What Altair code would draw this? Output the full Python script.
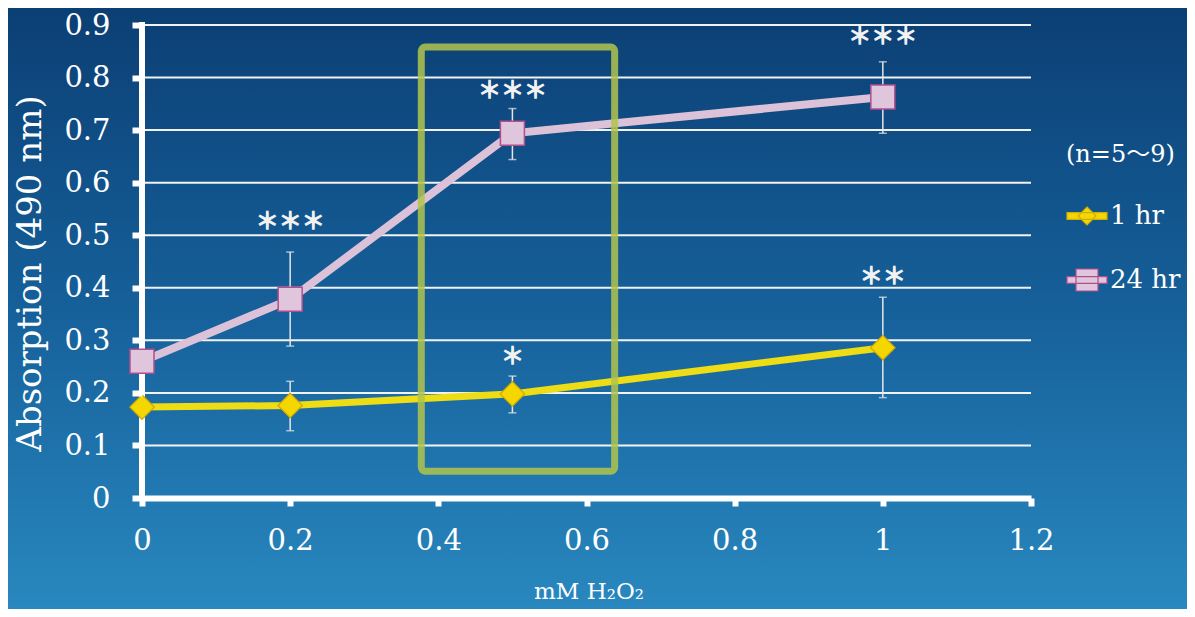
import altair as alt
import pandas as pd

# ---------------- data ----------------
series_names = ["1 hr", "24 hr"]
x_vals = [0, 0.2, 0.5, 1.0]
hr1_mean = [0.173, 0.176, 0.198, 0.286]
hr1_low = [0.165, 0.128, 0.162, 0.191]
hr1_high = [0.181, 0.222, 0.232, 0.382]
hr24_mean = [0.260, 0.378, 0.694, 0.763]
hr24_low = [0.250, 0.289, 0.644, 0.694]
hr24_high = [0.270, 0.468, 0.741, 0.830]

star_x = [0.2, 0.5, 1.0, 0.5, 1.0]
star_y = [0.525, 0.774, 0.877, 0.268, 0.420]
star_text = ["＊＊＊", "＊＊＊", "＊＊＊", "＊", "＊＊"]

box_x = [0.377, 0.638]
box_y = [0.051, 0.858]

x_ticks = [0, 0.2, 0.4, 0.6, 0.8, 1, 1.2]
y_ticks = [0, 0.1, 0.2, 0.3, 0.4, 0.5, 0.6, 0.7, 0.8, 0.9]

x_title = "mM H₂O₂"
y_title = "Absorption (490 nm)"
legend_title = "(n=5〜9)"

# ---------------- tables ----------------
rows = []
for name, m, lo, hi in [(series_names[0], hr1_mean, hr1_low, hr1_high),
                        (series_names[1], hr24_mean, hr24_low, hr24_high)]:
    for i, xv in enumerate(x_vals):
        rows.append({"series": name, "x": xv, "mean": m[i], "low": lo[i], "high": hi[i]})
df = pd.DataFrame(rows)
df1 = df[df.series == series_names[0]]
df24 = df[df.series == series_names[1]]
stars = pd.DataFrame({"x": star_x, "y": star_y, "t": star_text})
box = pd.DataFrame({"x": [box_x[0]], "x2": [box_x[1]], "y": [box_y[0]], "y2": [box_y[1]]})
grid = pd.DataFrame({"y": y_ticks[1:]})
yline = pd.DataFrame({"x": [x_ticks[0]], "y": [y_ticks[0]], "y2": [y_ticks[-1]]})
one = pd.DataFrame({"a": [0]})

W, H = 889, 473
PAD = {"left": 134, "top": 17, "right": 156, "bottom": 111}
SERIF = "DejaVu Serif"
LEGFONT = "'DejaVu Serif', 'Noto Sans CJK JP'"

xs = alt.Scale(domain=[0, 1.2], nice=False, zero=False)
ys = alt.Scale(domain=[0, 0.9], nice=False, zero=False)

xax = alt.Axis(values=x_ticks, format="~g", grid=False, domain=True, domainColor="white",
               domainWidth=6, ticks=True, tickColor="white", tickWidth=6, tickSize=8,
               labelFont=SERIF, labelFontSize=29, labelColor="white", labelPadding=20,
               labelFlush=False, labelOverlap=False,
               title=x_title, titleFont=SERIF, titleFontSize=23, titleColor="white",
               titleFontWeight="normal", titleX=W / 2 + 2, titleY=100, titleBaseline="alphabetic",
               titleAlign="center", zindex=1)
yax = alt.Axis(values=y_ticks, format="~g", grid=False, domain=False, ticks=True,
               tickColor="white", tickWidth=6, tickSize=10,
               labelFont=SERIF, labelFontSize=29, labelColor="white", labelPadding=22,
               labelFlush=False, labelOverlap=False,
               title=y_title, titleFont=SERIF, titleFontSize=34, titleColor="white",
               titleFontWeight="normal", titleX=-102, titleY=248, titleAngle=270,
               titleBaseline="alphabetic", titleAlign="center", zindex=1)


def X(f):
    return alt.X(f, type="quantitative", scale=xs, axis=xax)


def Y(f):
    return alt.Y(f, type="quantitative", scale=ys, axis=yax)


gradient = alt.Gradient(gradient="linear",
                        stops=[alt.GradientStop(color="#0b3f74", offset=0),
                               alt.GradientStop(color="#16609a", offset=0.5),
                               alt.GradientStop(color="#2988bf", offset=1)],
                        x1=0, x2=0, y1=0, y2=1)

bg = alt.Chart(one).mark_rect(fill=gradient, strokeWidth=0).encode(
    x=alt.value(-PAD["left"]), x2=alt.value(W + PAD["right"]),
    y=alt.value(-PAD["top"]), y2=alt.value(H + PAD["bottom"]))

gridlines = alt.Chart(grid).mark_rule(color="#f2f2f2", strokeWidth=2).encode(y=Y("y"))

yaxis_line = alt.Chart(yline).mark_rule(color="white", strokeWidth=6, strokeCap="square").encode(
    x=X("x"), y=Y("y"), y2="y2")

line1 = alt.Chart(df1).mark_line(color="#eedc14", strokeWidth=7).encode(x=X("x"), y=Y("mean"))
line24 = alt.Chart(df24).mark_line(color="#dcc2d8", strokeWidth=8).encode(x=X("x"), y=Y("mean"))

err = alt.Chart(df).mark_rule(color="#e6e6e6", strokeWidth=1.5).encode(x=X("x"), y=Y("low"), y2="high")
cap_lo = alt.Chart(df).mark_tick(color="#e6e6e6", thickness=1.5, size=8, orient="horizontal").encode(
    x=X("x"), y=Y("low"))
cap_hi = alt.Chart(df).mark_tick(color="#e6e6e6", thickness=1.5, size=8, orient="horizontal").encode(
    x=X("x"), y=Y("high"))

pts1 = alt.Chart(df1).mark_point(shape="diamond", filled=True, fill="#f4d600", stroke="#cfa800",
                                 strokeWidth=1.2, size=600, opacity=1).encode(x=X("x"), y=Y("mean"))
pts24 = alt.Chart(df24).mark_point(shape="square", filled=True, fill="#e0c6dc", stroke="#b04f8c",
                                   strokeWidth=1.5, size=576, opacity=1).encode(x=X("x"), y=Y("mean"))

star_marks = alt.Chart(stars).mark_text(font="Noto Sans CJK JP", fontSize=23,
                                        color="#f2f2f2", stroke="#f2f2f2", strokeWidth=1.3,
                                        align="center", baseline="middle").encode(
    x=X("x"), y=Y("y"), text="t")

hl = alt.Chart(box).mark_rect(fillOpacity=0, stroke="#b2c44c", strokeWidth=7, strokeOpacity=0.85,
                              cornerRadius=4).encode(x=X("x"), x2="x2", y=Y("y"), y2="y2")

path1 = "M-1,-0.17H1V0.17H-1Z M0,-0.45L0.45,0L0,0.45L-0.45,0Z"
path2 = "M-1,-0.17H1V0.17H-1Z M-0.55,-0.55H0.55V0.55H-0.55Z"
leg = alt.Legend(orient="none", legendX=924, legendY=118, title=legend_title,
                 titleFont=LEGFONT, titleFontSize=24, titleColor="white", titleFontWeight="normal",
                 titlePadding=28, labelFont=SERIF, labelFontSize=26, labelColor="white",
                 labelOffset=2, symbolSize=1600, symbolOpacity=1, symbolStrokeWidth=1.2,
                 rowPadding=30, padding=0)
legend_layer = alt.Chart(df).mark_point(filled=True, opacity=0, size=10).encode(
    x=X("x"), y=Y("mean"),
    shape=alt.Shape("series:N", scale=alt.Scale(domain=series_names, range=[path1, path2]), legend=leg),
    fill=alt.Fill("series:N", scale=alt.Scale(domain=series_names, range=["#f2d60a", "#dfc6dc"]), legend=leg),
    stroke=alt.Stroke("series:N", scale=alt.Scale(domain=series_names, range=["#d2ae00", "#b04f8c"]), legend=leg),
)

chart = alt.layer(bg, gridlines, yaxis_line, line1, line24, err, cap_lo, cap_hi,
                  pts1, pts24, star_marks, hl, legend_layer).properties(
    width=W, height=H, autosize=alt.AutoSizeParams(type="none"), padding=PAD,
    background="#16609a"
).configure_view(stroke=None)

chart.save("out.html", embed_options={"renderer": "svg", "actions": False})
